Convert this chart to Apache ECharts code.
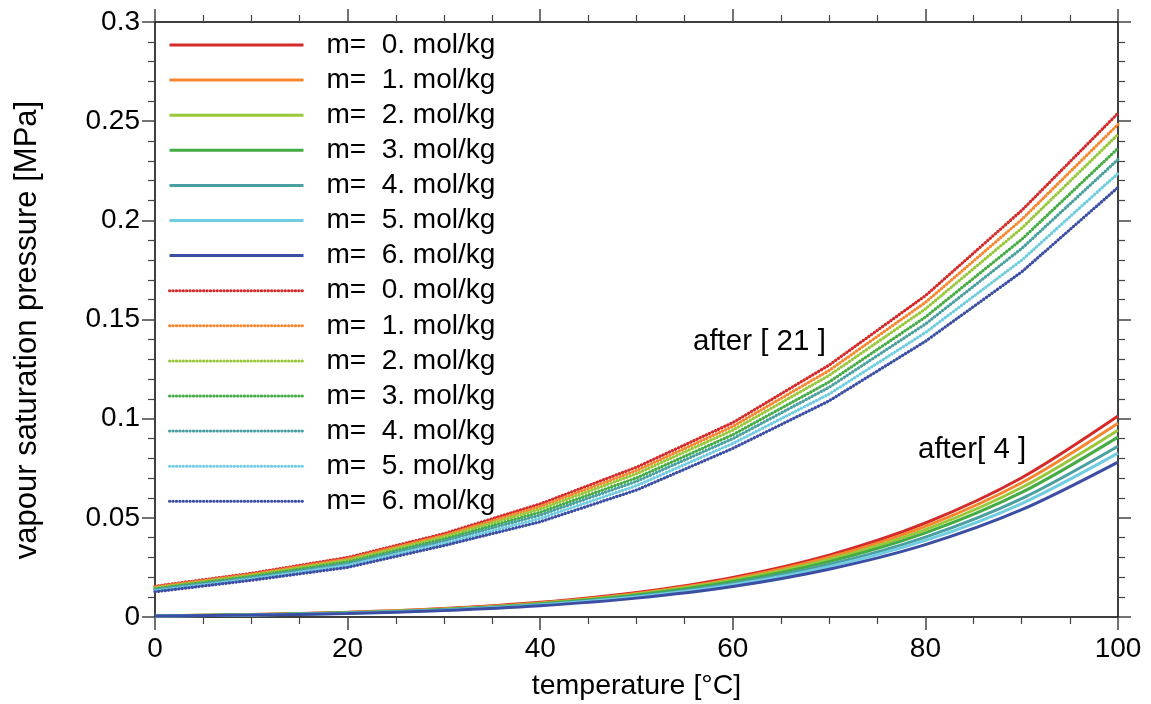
<!DOCTYPE html>
<html>
<head>
<meta charset="utf-8">
<script src="https://cdn.jsdelivr.net/npm/echarts@6/dist/echarts.min.js"></script>
<style>html,body{margin:0;padding:0;background:#fff}#c{width:1151px;height:704px}</style>
</head>
<body>
<div id="c"></div>
<script>
// temperatures [°C]
const temps = [0, 10, 20, 30, 40, 50, 60, 70, 80, 90, 100];
const molalities = ['0.', '1.', '2.', '3.', '4.', '5.', '6.'];
const colors = ['#d42a2a', '#f7872f', '#98c83a', '#45ab45', '#4a9fa0', '#70cce0', '#3b4ea3'];

// "after[ 4 ]" (solid lines) vapour pressure [MPa]
const p4_m0 = [0.00061, 0.00123, 0.00234, 0.00425, 0.00738, 0.01235, 0.01995, 0.0312, 0.0474, 0.0702, 0.1013];
const p4_m1 = [0.00059, 0.00119, 0.00226, 0.0041, 0.00711, 0.0119, 0.0192, 0.0301, 0.0457, 0.0677, 0.0977];
const p4_m2 = [0.00057, 0.00114, 0.00218, 0.00395, 0.00686, 0.01149, 0.01855, 0.0290, 0.0441, 0.0653, 0.0942];
const p4_m3 = [0.00055, 0.0011, 0.00209, 0.0038, 0.0066, 0.01105, 0.01786, 0.0279, 0.0424, 0.0628, 0.0907];
const p4_m4 = [0.00052, 0.00105, 0.00199, 0.00361, 0.00627, 0.0105, 0.01696, 0.0265, 0.0403, 0.0597, 0.0861];
const p4_m5 = [0.0005, 0.001, 0.00191, 0.00346, 0.00601, 0.01007, 0.01626, 0.0254, 0.0386, 0.0572, 0.0826];
const p4_m6 = [0.00047, 0.00095, 0.0018, 0.00328, 0.00569, 0.00952, 0.01538, 0.0241, 0.0365, 0.0541, 0.0781];

// "after [ 21 ]" (dotted lines) vapour pressure [MPa]
const p21_m0 = [0.0155, 0.0220, 0.0300, 0.0420, 0.0570, 0.0755, 0.0980, 0.1270, 0.1620, 0.2050, 0.2540];
const p21_m1 = [0.0151, 0.0215, 0.0293, 0.0411, 0.0557, 0.0738, 0.0961, 0.1243, 0.1586, 0.2004, 0.2484];
const p21_m2 = [0.0147, 0.0210, 0.0286, 0.0403, 0.0544, 0.0722, 0.0942, 0.1218, 0.1553, 0.1960, 0.2433];
const p21_m3 = [0.0142, 0.0204, 0.0277, 0.0392, 0.0528, 0.0701, 0.0919, 0.1185, 0.1512, 0.1904, 0.2363];
const p21_m4 = [0.0138, 0.0198, 0.0269, 0.0383, 0.0514, 0.0684, 0.0899, 0.1158, 0.1477, 0.1858, 0.2307];
const p21_m5 = [0.0132, 0.0192, 0.0260, 0.0371, 0.0497, 0.0662, 0.0875, 0.1124, 0.1434, 0.1799, 0.2237];
const p21_m6 = [0.0127, 0.0185, 0.0250, 0.0360, 0.0480, 0.0640, 0.0850, 0.1090, 0.1390, 0.1740, 0.2166];

const xTicks = [0, 20, 40, 60, 80, 100];
const yTicks = [0, 0.05, 0.1, 0.15, 0.2, 0.25, 0.3];

const p4 = [p4_m0, p4_m1, p4_m2, p4_m3, p4_m4, p4_m5, p4_m6];
const p21 = [p21_m0, p21_m1, p21_m2, p21_m3, p21_m4, p21_m5, p21_m6];

const FONT = '"Liberation Sans", Arial, sans-serif';
const series = [];
const legendNames = [];
p4.forEach((vals, i) => {
  const name = 'm=  ' + molalities[i] + ' mol/kg';
  legendNames.push(name);
  series.push({
    name, type: 'line', xAxisIndex: 0, yAxisIndex: 0,
    data: temps.map((t, k) => [t, vals[k]]),
    symbol: 'none', showSymbol: false, smooth: 0.3,
    lineStyle: { color: colors[i], width: 3 },
    itemStyle: { color: colors[i] },
    z: 3
  });
});
p21.forEach((vals, i) => {
  const name = 'm=  ' + molalities[i] + ' mol/kg\u200b';
  legendNames.push(name);
  series.push({
    name, type: 'line', xAxisIndex: 0, yAxisIndex: 0,
    data: temps.map((t, k) => [t, vals[k]]),
    symbol: 'none', showSymbol: false,
    lineStyle: { color: colors[i], width: 3.2, type: [0.3, 3.1], cap: 'round' },
    itemStyle: { color: colors[i] },
    z: 2
  });
});

const tickLabelStyle = { color: '#000', fontSize: 28, fontFamily: FONT };
const baseX = {
  type: 'value', min: 0, max: 100, interval: 20,
  axisLine: { show: true, onZero: false, lineStyle: { color: '#000', width: 1.5 } },
  axisTick: { show: true, inside: false, length: 13, lineStyle: { color: '#444', width: 1.5 } },
  minorTick: { show: true, splitNumber: 4, length: 7, lineStyle: { color: '#444', width: 1.2 } },
  splitLine: { show: false }, minorSplitLine: { show: false }
};
const baseY = {
  type: 'value', min: 0, max: 0.3, interval: 0.05,
  axisLine: { show: true, onZero: false, lineStyle: { color: '#000', width: 1.5 } },
  axisTick: { show: true, inside: false, length: 13, lineStyle: { color: '#444', width: 1.5 } },
  minorTick: { show: true, splitNumber: 5, length: 7, lineStyle: { color: '#444', width: 1.2 } },
  splitLine: { show: false }, minorSplitLine: { show: false }
};

const chart = echarts.init(document.getElementById('c'), null, { renderer: 'canvas' });
chart.setOption({
  backgroundColor: '#fff',
  animation: false,
  grid: { left: 155, right: 33, top: 22, bottom: 87, containLabel: false, outerBoundsMode: 'none' },
  xAxis: [
    Object.assign({}, baseX, {
      position: 'bottom',
      axisLabel: Object.assign({ margin: 18, formatter: v => xTicks.includes(v) ? String(v) : '' }, tickLabelStyle),
      name: 'temperature [°C]', nameLocation: 'middle', nameGap: 55,
      nameTextStyle: { color: '#000', fontSize: 28.5, fontFamily: FONT }
    }),
    Object.assign({}, baseX, { position: 'top', axisLabel: { show: false } })
  ],
  yAxis: [
    Object.assign({}, baseY, {
      position: 'left',
      axisLabel: Object.assign({ margin: 15, formatter: v => {
        const m = yTicks.find(t => Math.abs(t - v) < 1e-9);
        return m === undefined ? '' : String(m);
      } }, tickLabelStyle)
    }),
    Object.assign({}, baseY, { position: 'right', axisLabel: { show: false } })
  ],
  legend: {
    data: legendNames,
    orient: 'vertical',
    left: 163, top: 26,
    itemWidth: 134, itemHeight: 28, itemGap: 7.1,
    padding: 5,
    selectedMode: false,
    itemStyle: { opacity: 0 },
    lineStyle: { width: 3 },
    textStyle: { color: '#000', fontSize: 28, fontFamily: FONT, padding: [0, 0, 0, 18], lineHeight: 28 }
  },
  graphic: [
    { type: 'text', x: 27, y: 330, rotation: Math.PI / 2,
      style: { text: 'vapour saturation pressure [MPa]', fill: '#000', font: '31px ' + FONT, align: 'center', verticalAlign: 'middle' } },
    { type: 'text', left: 693, top: 327, style: { text: 'after [ 21 ]', fill: '#000', font: '29.5px ' + FONT } },
    { type: 'text', left: 918, top: 435, style: { text: 'after[ 4 ]', fill: '#000', font: '29.5px ' + FONT } }
  ],
  series
});
</script>
</body>
</html>
